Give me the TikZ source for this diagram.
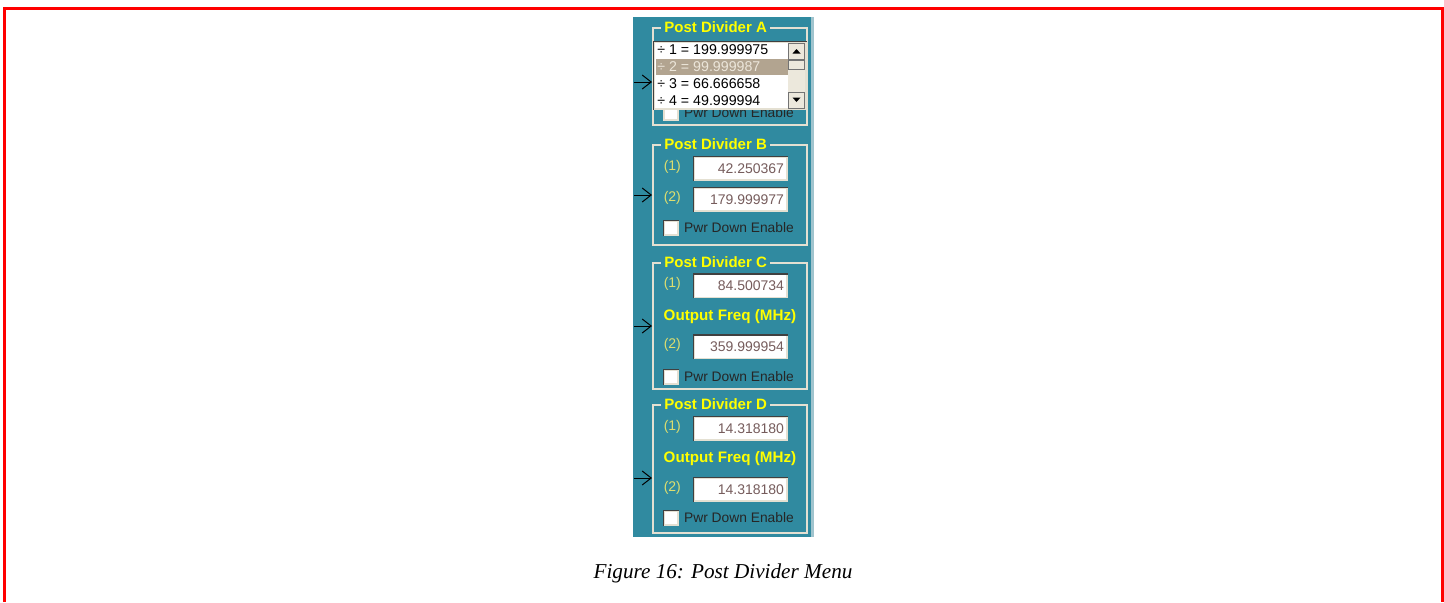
\documentclass[tikz,border=0pt]{standalone}
\usepackage{fontspec}
\setmainfont{Liberation Serif}
\setsansfont{Liberation Sans}
\usepackage{tikz}
\usetikzlibrary{positioning, arrows.meta}
\definecolor{panelbg}{RGB}{48,138,160}
\definecolor{panelrim}{RGB}{160,196,206}
\definecolor{etch}{RGB}{228,224,210}
\definecolor{titleyellow}{RGB}{255,255,0}
\definecolor{idxyellow}{RGB}{222,222,110}
\definecolor{valtext}{RGB}{118,92,92}
\definecolor{selrow}{RGB}{178,164,144}
\definecolor{seltext}{RGB}{236,230,218}
\definecolor{scrollbg}{RGB}{236,232,220}
\definecolor{sunkedge}{RGB}{64,64,64}

\begin{document}
\begin{tikzpicture}[x=0.5pt,y=-0.5pt]
    \tikzstyle{groupbox}=[draw=etch,line width=1pt,inner sep=0pt]
    \tikzstyle{title}=[fill=panelbg,text=titleyellow,font=\sffamily\bfseries\fontsize{7.5}{9}\selectfont,inner xsep=1.5pt,inner ysep=0pt]
    \tikzstyle{outfreq}=[text=titleyellow,font=\sffamily\bfseries\fontsize{7.6}{9}\selectfont,inner sep=0pt]
    \tikzstyle{valbox}=[fill=white,draw=etch,line width=0.75pt,text=valtext,font=\sffamily\fontsize{7}{8}\selectfont,text width=43.5pt,align=right,inner xsep=1.5pt,minimum height=11.5pt,inner ysep=0pt]
    \tikzstyle{idx}=[text=idxyellow,font=\sffamily\fontsize{7}{8}\selectfont,inner sep=0pt]
    \tikzstyle{chk}=[fill=white,draw=etch,line width=0.75pt,minimum size=7pt,inner sep=0pt]
    \tikzstyle{chktext}=[text=black!85,font=\sffamily\fontsize{6.9}{8}\selectfont,inner sep=0pt]
    \tikzstyle{row}=[font=\sffamily\fontsize{7.1}{8}\selectfont,inner sep=0pt,anchor=west]
    \tikzstyle{sunk}=[draw=sunkedge,line width=0.75pt]
    \tikzstyle{feed}=[-{Straight Barb[length=4.5pt,width=7pt]},line width=0.5pt,black]

    \useasboundingbox (0,0) rectangle (1444,602);
    \draw[red,line width=1.5pt] (4,602) -- (4,8) -- (1442,8) -- (1442,602);

    % panel
    \fill[panelbg] (633,17) rectangle (811,537);
    \fill[panelrim] (811,17) rectangle (814,537);

    % group frames
    \node (grpA)[groupbox,minimum width=77pt,minimum height=48.5pt] at (730,76.5) {};
    \node (grpB)[groupbox,minimum width=77pt,minimum height=50pt] at (730,195) {};
    \node (grpC)[groupbox,minimum width=77pt,minimum height=63pt] at (730,326) {};
    \node (grpD)[groupbox,minimum width=77pt,minimum height=64pt] at (730,469) {};
    \node (titA)[title,right=4.5pt of grpA.north west] {Post Divider A};
    \node (titB)[title,right=4.5pt of grpB.north west] {Post Divider B};
    \node (titC)[title,right=4.5pt of grpC.north west] {Post Divider C};
    \node (titD)[title,right=4.5pt of grpD.north west] {Post Divider D};

    % inputs
    \coordinate (inA) at (634,82);
    \coordinate (inB) at (634,195);
    \coordinate (inC) at (634,326);
    \coordinate (inD) at (634,478);
    \draw[feed] (inA) -- (inA -| grpA.west);
    \draw[feed] (inB) -- (inB -| grpB.west);
    \draw[feed] (inC) -- (inC -| grpC.west);
    \draw[feed] (inD) -- (inD -| grpD.west);

    % divider A: list over its check box
    \node (ckA)[chk] at (671,113) {};
    \node (ckAt)[chktext,right=2.5pt of ckA] {Pwr Down Enable};
    \node (lstA)[fill=white,draw=etch,line width=0.75pt,minimum width=76pt,minimum height=33.5pt,inner sep=0pt] at (730,75.5) {};
    \fill[selrow] (656,59) rectangle (788,75);
    \node (rA1)[row] at (657,50) {÷ 1 = 199.999975};
    \node (rA2)[row,text=seltext] at (657,67) {÷ 2 = 99.999987};
    \node (rA3)[row] at (657,84) {÷ 3 = 66.666658};
    \node (rA4)[row] at (657,101) {÷ 4 = 49.999994};
    \fill[scrollbg] (788,43) rectangle (805,108);
    \node (upA)[fill=scrollbg,draw=black!55,line width=0.5pt,minimum width=8pt,minimum height=8pt,inner sep=0pt] at (796.5,51) {};
    \node (thA)[fill=scrollbg,draw=black!55,line width=0.5pt,minimum width=8pt,minimum height=4.5pt,inner sep=0pt] at (796.5,64.5) {};
    \node (dnA)[fill=scrollbg,draw=black!55,line width=0.5pt,minimum width=8pt,minimum height=8pt,inner sep=0pt] at (796.5,100) {};
    \fill (792.5,53.5) -- (800.5,53.5) -- (796.5,49) -- cycle;
    \fill (792.5,97.5) -- (800.5,97.5) -- (796.5,102) -- cycle;

    % divider B
    \node (b1)[valbox] at (740.5,168.5) {42.250367};
    \node (b2)[valbox] at (740.5,199.5) {179.999977};
    \node (b1i)[idx,left=6pt of b1,yshift=1pt] {(1)};
    \node (b2i)[idx,left=6pt of b2,yshift=1pt] {(2)};
    \node (ckB)[chk] at (671,228) {};
    \node (ckBt)[chktext,right=2.5pt of ckB] {Pwr Down Enable};

    % divider C
    \node (c1)[valbox] at (740.5,286) {84.500734};
    \node (c2)[valbox] at (740.5,347) {359.999954};
    \node (c1i)[idx,left=6pt of c1,yshift=1pt] {(1)};
    \node (c2i)[idx,left=6pt of c2,yshift=1pt] {(2)};
    \node (ofC)[outfreq] at (730,317) {Output Freq (MHz)};
    \node (ckC)[chk] at (671,377) {};
    \node (ckCt)[chktext,right=2.5pt of ckC] {Pwr Down Enable};

    % divider D
    \node (d1)[valbox] at (740.5,428.5) {14.318180};
    \node (d2)[valbox] at (740.5,489.5) {14.318180};
    \node (d1i)[idx,left=6pt of d1,yshift=1pt] {(1)};
    \node (d2i)[idx,left=6pt of d2,yshift=1pt] {(2)};
    \node (ofD)[outfreq] at (730,459) {Output Freq (MHz)};
    \node (ckD)[chk] at (671,518) {};
    \node (ckDt)[chktext,right=2.5pt of ckD] {Pwr Down Enable};

    \foreach \n in {lstA,b1,b2,c1,c2,d1,d2,ckB,ckC,ckD}
        \draw[sunk] (\n.south west) |- (\n.north east);

    \node (cap)[font=\rmfamily\itshape\fontsize{10.6}{12}\selectfont] at (723,573) {Figure 16: Post Divider Menu};
\end{tikzpicture}
\end{document}
